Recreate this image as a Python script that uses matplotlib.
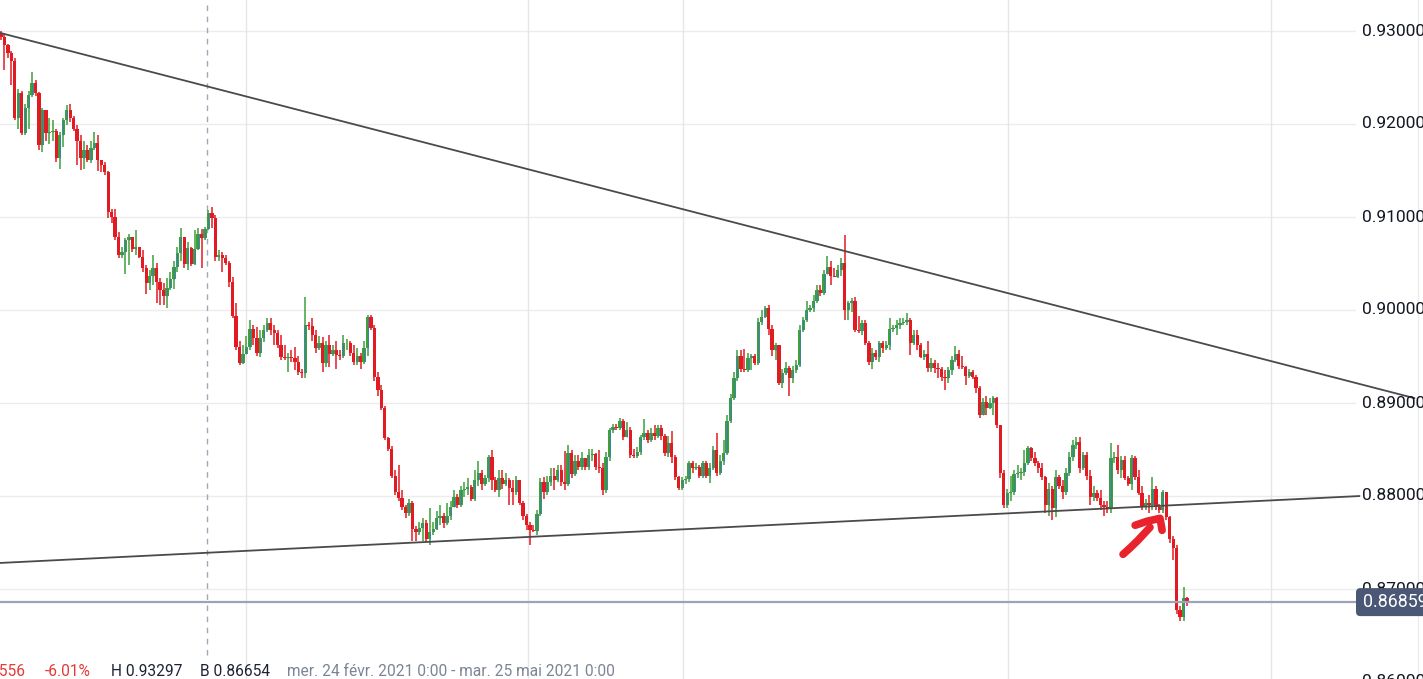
"""Candlestick chart with two hand-drawn trend lines, recreated in matplotlib."""

import matplotlib

matplotlib.use("Agg")
import matplotlib.pyplot as plt  # noqa: E402
from matplotlib.patches import FancyBboxPatch  # noqa: E402
from matplotlib.transforms import blended_transform_factory  # noqa: E402

# ---- data (prices) ----
FIRST_OPEN = 0.9298

CLOSE = [
    0.9294, 0.9285, 0.9276, 0.9268, 0.9206, 0.9233, 0.9190, 0.9217, 0.9231, 0.9244,
    0.9233, 0.9177, 0.9215, 0.9190, 0.9191, 0.9193, 0.9163, 0.9188, 0.9204, 0.9215,
    0.9206, 0.9195, 0.9182, 0.9163, 0.9172, 0.9161, 0.9174, 0.9180, 0.9161, 0.9156,
    0.9148, 0.9105, 0.9100, 0.9078, 0.9059,
    0.9062, 0.9075, 0.9078, 0.9066, 0.9068, 0.9057, 0.9045, 0.9029, 0.9037, 0.9045,
    0.9030, 0.9021, 0.9015, 0.9024, 0.9033, 0.9046, 0.9061, 0.9078, 0.9049, 0.9067,
    0.9049, 0.9066, 0.9082, 0.9077, 0.9087, 0.9104, 0.9099, 0.9057, 0.9059, 0.9056,
    0.9051, 0.9030, 0.8994, 0.8960, 0.8943, 0.8953, 0.8960, 0.8980, 0.8970, 0.8954,
    0.8970, 0.8979, 0.8986, 0.8978, 0.8975, 0.8962, 0.8949, 0.8948, 0.8950, 0.8948,
    0.8944, 0.8933, 0.8932, 0.8984, 0.8983, 0.8973, 0.8959, 0.8964, 0.8943, 0.8962,
    0.8953, 0.8957, 0.8952, 0.8951, 0.8964, 0.8965, 0.8954, 0.8944, 0.8951, 0.8944,
    0.8959, 0.8992, 0.8981, 0.8928, 0.8914,
    0.8895, 0.8862, 0.8851, 0.8822, 0.8804, 0.8798, 0.8788, 0.8782, 0.8793, 0.8765,
    0.8761, 0.8766, 0.8771, 0.8754, 0.8761, 0.8765, 0.8776, 0.8779, 0.8771, 0.8778,
    0.8788, 0.8799, 0.8790, 0.8806, 0.8808, 0.8810, 0.8797, 0.8817, 0.8825, 0.8813,
    0.8819, 0.8842, 0.8817, 0.8806, 0.8819, 0.8813, 0.8817, 0.8809, 0.8804, 0.8817,
    0.8793, 0.8778, 0.8769, 0.8763, 0.8762, 0.8781, 0.8815, 0.8804, 0.8815, 0.8822,
    0.8817, 0.8828, 0.8815, 0.8813, 0.8846, 0.8824, 0.8838, 0.8831, 0.8841, 0.8831,
    0.8844, 0.8845, 0.8831, 0.8830, 0.8806, 0.8842, 0.8871, 0.8874, 0.8873, 0.8881,
    0.8863, 0.8871, 0.8844, 0.8843, 0.8847, 0.8863, 0.8868, 0.8860, 0.8868, 0.8865,
    0.8873, 0.8865, 0.8846, 0.8857, 0.8842, 0.8820, 0.8809, 0.8817, 0.8818, 0.8836,
    0.8830, 0.8831, 0.8822, 0.8836, 0.8822, 0.8830, 0.8849, 0.8825, 0.8838, 0.8846,
    0.8881, 0.8905,
    0.8927, 0.8951, 0.8937, 0.8935, 0.8948, 0.8951, 0.8943, 0.8987, 0.8992, 0.9002,
    0.8980, 0.8957, 0.8962, 0.8921, 0.8932, 0.8938, 0.8927, 0.8935, 0.8941, 0.8978,
    0.8989, 0.9000, 0.9002, 0.9010, 0.9021, 0.9018, 0.9039, 0.9046, 0.9037, 0.9036,
    0.9043, 0.9051, 0.9000, 0.9007, 0.9010, 0.8978, 0.8977, 0.8986, 0.8965, 0.8944,
    0.8954, 0.8949, 0.8964, 0.8959, 0.8962, 0.8980, 0.8981, 0.8984, 0.8986, 0.8987,
    0.8989, 0.8964, 0.8973, 0.8962, 0.8949, 0.8953, 0.8938, 0.8943, 0.8938, 0.8937,
    0.8928, 0.8927, 0.8935, 0.8946, 0.8953, 0.8940, 0.8939, 0.8929, 0.8933, 0.8928,
    0.8916, 0.8887, 0.8901, 0.8895, 0.8900, 0.8905, 0.8876, 0.8825, 0.8790,
    0.8803, 0.8804, 0.8824, 0.8825, 0.8826, 0.8836, 0.8852, 0.8841, 0.8836, 0.8830,
    0.8820, 0.8790, 0.8808, 0.8787, 0.8820, 0.8811, 0.8804, 0.8825, 0.8842, 0.8855,
    0.8858, 0.8830, 0.8844, 0.8822, 0.8799, 0.8803, 0.8798, 0.8790, 0.8788, 0.8787,
    0.8841, 0.8842, 0.8828, 0.8839, 0.8819, 0.8813, 0.8841, 0.8820, 0.8803, 0.8788,
    0.8793, 0.8790, 0.8808, 0.8788, 0.8785, 0.8804, 0.8777, 0.8754, 0.8744, 0.8677,
    0.8670, 0.8690, 0.86859,
]

HIGH = [
    0.9300, 0.9298, 0.9286, 0.9278, 0.9271, 0.9238, 0.9236, 0.9222, 0.9236, 0.9256,
    0.9247, 0.9234, 0.9217, 0.9215, 0.9206, 0.9204, 0.9195, 0.9191, 0.9206, 0.9220,
    0.9221, 0.9209, 0.9199, 0.9188, 0.9182, 0.9177, 0.9182, 0.9191, 0.9188, 0.9161,
    0.9159, 0.9150, 0.9109, 0.9109, 0.9084,
    0.9068, 0.9077, 0.9082, 0.9079, 0.9086, 0.9068, 0.9064, 0.9048, 0.9043, 0.9059,
    0.9051, 0.9034, 0.9029, 0.9034, 0.9041, 0.9053, 0.9068, 0.9088, 0.9078, 0.9073,
    0.9068, 0.9086, 0.9088, 0.9087, 0.9089, 0.9107, 0.9111, 0.9102, 0.9064, 0.9062,
    0.9059, 0.9053, 0.9036, 0.9007, 0.8967, 0.8962, 0.8972, 0.8989, 0.8984, 0.8982,
    0.8979, 0.8984, 0.8991, 0.8991, 0.8984, 0.8978, 0.8973, 0.8962, 0.8954, 0.8957,
    0.8960, 0.8951, 0.8937, 0.9014, 0.8987, 0.8991, 0.8978, 0.8972, 0.8971, 0.8967,
    0.8973, 0.8962, 0.8967, 0.8957, 0.8973, 0.8969, 0.8967, 0.8962, 0.8959, 0.8954,
    0.8967, 0.8995, 0.8995, 0.8984, 0.8933,
    0.8919, 0.8897, 0.8863, 0.8854, 0.8828, 0.8833, 0.8806, 0.8790, 0.8797, 0.8795,
    0.8768, 0.8772, 0.8776, 0.8774, 0.8787, 0.8772, 0.8784, 0.8790, 0.8782, 0.8793,
    0.8795, 0.8806, 0.8802, 0.8811, 0.8815, 0.8819, 0.8812, 0.8828, 0.8838, 0.8828,
    0.8823, 0.8844, 0.8849, 0.8820, 0.8828, 0.8828, 0.8825, 0.8819, 0.8817, 0.8821,
    0.8817, 0.8795, 0.8781, 0.8772, 0.8769, 0.8785, 0.8819, 0.8820, 0.8822, 0.8830,
    0.8830, 0.8833, 0.8833, 0.8848, 0.8855, 0.8849, 0.8844, 0.8844, 0.8847, 0.8841,
    0.8851, 0.8851, 0.8846, 0.8849, 0.8836, 0.8847, 0.8873, 0.8877, 0.8877, 0.8884,
    0.8883, 0.8880, 0.8874, 0.8851, 0.8853, 0.8866, 0.8883, 0.8871, 0.8873, 0.8876,
    0.8876, 0.8876, 0.8867, 0.8865, 0.8870, 0.8844, 0.8822, 0.8820, 0.8821, 0.8838,
    0.8838, 0.8835, 0.8833, 0.8838, 0.8838, 0.8836, 0.8854, 0.8868, 0.8844, 0.8860,
    0.8887, 0.8910,
    0.8933, 0.8957, 0.8957, 0.8958, 0.8954, 0.8953, 0.8953, 0.8991, 0.9000, 0.9004,
    0.9005, 0.8984, 0.8965, 0.8962, 0.8937, 0.8944, 0.8940, 0.8940, 0.8946, 0.8984,
    0.8993, 0.9010, 0.9005, 0.9016, 0.9027, 0.9027, 0.9043, 0.9058, 0.9053, 0.9045,
    0.9048, 0.9056, 0.9081, 0.9010, 0.9013, 0.9014, 0.8994, 0.8989, 0.8989, 0.8967,
    0.8959, 0.8957, 0.8967, 0.8967, 0.8967, 0.8991, 0.8984, 0.8989, 0.8991, 0.8991,
    0.8997, 0.8991, 0.8978, 0.8978, 0.8965, 0.8957, 0.8967, 0.8948, 0.8946, 0.8943,
    0.8939, 0.8935, 0.8939, 0.8951, 0.8961, 0.8957, 0.8951, 0.8940, 0.8937, 0.8935,
    0.8930, 0.8918, 0.8905, 0.8908, 0.8905, 0.8907, 0.8906, 0.8876, 0.8828,
    0.8808, 0.8822, 0.8828, 0.8833, 0.8830, 0.8849, 0.8854, 0.8853, 0.8847, 0.8838,
    0.8836, 0.8822, 0.8814, 0.8811, 0.8828, 0.8823, 0.8817, 0.8830, 0.8847, 0.8860,
    0.8863, 0.8863, 0.8847, 0.8847, 0.8828, 0.8811, 0.8806, 0.8806, 0.8795, 0.8795,
    0.8857, 0.8847, 0.8855, 0.8843, 0.8843, 0.8822, 0.8844, 0.8843, 0.8828, 0.8811,
    0.8797, 0.8801, 0.8820, 0.8811, 0.8791, 0.8806, 0.8804, 0.8779, 0.8757, 0.8747,
    0.8682, 0.8702, 0.8691,
]

LOW = [
    0.9290, 0.9258, 0.9271, 0.9242, 0.9204, 0.9195, 0.9188, 0.9188, 0.9195, 0.9229,
    0.9230, 0.9172, 0.9170, 0.9182, 0.9179, 0.9182, 0.9159, 0.9152, 0.9175, 0.9199,
    0.9202, 0.9192, 0.9156, 0.9151, 0.9152, 0.9159, 0.9158, 0.9172, 0.9150, 0.9148,
    0.9145, 0.9099, 0.9094, 0.9075, 0.9056,
    0.9056, 0.9039, 0.9048, 0.9062, 0.9059, 0.9056, 0.9041, 0.9017, 0.9021, 0.9027,
    0.9008, 0.9005, 0.9005, 0.9002, 0.9021, 0.9023, 0.9041, 0.9053, 0.9045, 0.9043,
    0.9047, 0.9048, 0.9064, 0.9045, 0.9075, 0.9086, 0.9088, 0.9053, 0.9053, 0.9041,
    0.9048, 0.9025, 0.8991, 0.8957, 0.8941, 0.8942, 0.8954, 0.8957, 0.8962, 0.8951,
    0.8949, 0.8966, 0.8976, 0.8973, 0.8962, 0.8959, 0.8946, 0.8946, 0.8933, 0.8944,
    0.8935, 0.8930, 0.8927, 0.8927, 0.8979, 0.8967, 0.8954, 0.8957, 0.8933, 0.8939,
    0.8939, 0.8951, 0.8937, 0.8946, 0.8948, 0.8957, 0.8951, 0.8941, 0.8941, 0.8937,
    0.8942, 0.8951, 0.8978, 0.8924, 0.8908,
    0.8892, 0.8860, 0.8848, 0.8819, 0.8801, 0.8795, 0.8785, 0.8776, 0.8779, 0.8752,
    0.8752, 0.8758, 0.8752, 0.8751, 0.8747, 0.8758, 0.8763, 0.8769, 0.8766, 0.8769,
    0.8774, 0.8788, 0.8787, 0.8788, 0.8799, 0.8801, 0.8795, 0.8795, 0.8811, 0.8806,
    0.8811, 0.8815, 0.8806, 0.8804, 0.8799, 0.8808, 0.8811, 0.8790, 0.8790, 0.8801,
    0.8790, 0.8774, 0.8763, 0.8747, 0.8761, 0.8758, 0.8779, 0.8797, 0.8801, 0.8811,
    0.8806, 0.8815, 0.8811, 0.8806, 0.8811, 0.8819, 0.8822, 0.8828, 0.8828, 0.8828,
    0.8828, 0.8838, 0.8828, 0.8825, 0.8801, 0.8803, 0.8838, 0.8868, 0.8871, 0.8871,
    0.8860, 0.8863, 0.8841, 0.8841, 0.8841, 0.8844, 0.8860, 0.8857, 0.8858, 0.8860,
    0.8862, 0.8860, 0.8843, 0.8842, 0.8836, 0.8817, 0.8806, 0.8806, 0.8813, 0.8815,
    0.8825, 0.8828, 0.8819, 0.8819, 0.8819, 0.8814, 0.8828, 0.8822, 0.8823, 0.8833,
    0.8844, 0.8879,
    0.8903, 0.8924, 0.8933, 0.8933, 0.8933, 0.8935, 0.8941, 0.8941, 0.8984, 0.8991,
    0.8973, 0.8951, 0.8946, 0.8919, 0.8916, 0.8930, 0.8908, 0.8922, 0.8932, 0.8939,
    0.8976, 0.8987, 0.8998, 0.8998, 0.9008, 0.9015, 0.9016, 0.9041, 0.9027, 0.9035,
    0.9034, 0.9037, 0.8989, 0.8989, 0.8998, 0.8976, 0.8975, 0.8973, 0.8962, 0.8941,
    0.8937, 0.8946, 0.8944, 0.8954, 0.8957, 0.8957, 0.8976, 0.8973, 0.8980, 0.8984,
    0.8984, 0.8952, 0.8962, 0.8957, 0.8948, 0.8946, 0.8933, 0.8933, 0.8932, 0.8927,
    0.8924, 0.8914, 0.8922, 0.8930, 0.8944, 0.8937, 0.8937, 0.8919, 0.8927, 0.8926,
    0.8911, 0.8884, 0.8887, 0.8887, 0.8894, 0.8887, 0.8873, 0.8819, 0.8787,
    0.8787, 0.8795, 0.8801, 0.8819, 0.8817, 0.8822, 0.8833, 0.8838, 0.8832, 0.8825,
    0.8817, 0.8782, 0.8779, 0.8774, 0.8777, 0.8808, 0.8797, 0.8801, 0.8822, 0.8838,
    0.8851, 0.8825, 0.8828, 0.8817, 0.8790, 0.8795, 0.8795, 0.8785, 0.8779, 0.8782,
    0.8782, 0.8836, 0.8824, 0.8819, 0.8817, 0.8811, 0.8806, 0.8817, 0.8801, 0.8785,
    0.8785, 0.8782, 0.8785, 0.8785, 0.8782, 0.8782, 0.8774, 0.8750, 0.8731, 0.8673,
    0.86654, 0.8666, 0.8682,
]

# trend lines drawn on the chart: (candle index, price) end points
UPPER_TREND = [(-0.3, 0.9298), (409.0, 0.8905)]
LOWER_TREND = [(-0.3, 0.8728), (393.1, 0.8800)]

# hand-drawn red arrow (candle index, price)
ARROW_SHAFT = [(324.5, 0.87373), (326.5, 0.87440), (328.8, 0.87523), (332.3, 0.87663)]
ARROW_HEAD = [(328.0, 0.87685), (331.4, 0.87728), (335.2, 0.87760), (335.8, 0.87631)]

LAST_PRICE = 0.86859
PRICE_LEVELS = [0.93, 0.92, 0.91, 0.90, 0.89, 0.88, 0.87, 0.86]
INFO_PARTS = [
    ("5556", "#e53935"),
    ("-6.01%", "#e53935"),
    ("H 0.93297", "#1e2235"),
    ("B 0.86654", "#1e2235"),
    ("mer. 24 févr. 2021 0:00 - mar. 25 mai 2021 0:00", "#7c8595"),
]

# ---- layout (pixels of the 1423x679 canvas) ----
W, H = 1423, 679
FIRST_PX, LAST_PX = 1, 1187
PANE_RIGHT_PX = 1355
VGRID_PX = [246, 528, 683, 1008, 1271]
CROSSHAIR_PX = 207
INFO_X_PX = [-9, 45, 111, 200, 287]

RED = "#e21b23"
GREEN = "#3d9f3d"

plt.rcParams["font.family"] = ["Roboto", "DejaVu Sans"]

n = len(CLOSE)
assert len(HIGH) == n and len(LOW) == n
opens = [FIRST_OPEN] + CLOSE[:-1]

px_per_candle = (LAST_PX - FIRST_PX) / (n - 1)
x_left = -FIRST_PX / px_per_candle
x_right = x_left + W / px_per_candle
y_top = 0.93 + 31 / 9300
y_bot = y_top - H / 9300


def px_to_x(px):
    return x_left + px / px_per_candle


fig = plt.figure(figsize=(W / 100, H / 100), dpi=100)
ax = fig.add_axes([0, 0, 1, 1])
ax.set_xlim(x_left, x_right)
ax.set_ylim(y_bot, y_top)
ax.axis("off")

pane_frac = PANE_RIGHT_PX / W
for lvl in PRICE_LEVELS:
    ax.axhline(lvl, xmin=0, xmax=pane_frac, color="#ececec", lw=1, zorder=0)
for px in VGRID_PX:
    ax.axvline(px_to_x(px), color="#e6e6e6", lw=1, zorder=0)
ax.axvline(px_to_x(1418), color="#ececec", lw=1, zorder=0)
ax.axvline(px_to_x(CROSSHAIR_PX), ymin=24 / H, ymax=1, color="#a3a7b3", lw=1,
           ls=(0, (4, 4)), zorder=1)

# candles
idx = list(range(n))
ups = [c >= o for o, c in zip(opens, CLOSE)]
colors = [GREEN if u else RED for u in ups]
bottoms = [min(o, c) for o, c in zip(opens, CLOSE)]
heights = [max(abs(c - o), 0.0001) for o, c in zip(opens, CLOSE)]
wick_lo = [min(lo, o, c) for lo, o, c in zip(LOW, opens, CLOSE)]
wick_hi = [max(hi, o, c) for hi, o, c in zip(HIGH, opens, CLOSE)]
ax.vlines(idx, wick_lo, wick_hi, colors=colors, lw=1.1, zorder=2)
ax.bar(idx, heights, bottom=bottoms, width=0.95, color=colors, linewidth=0, zorder=3)
green_idx = [i for i in idx if ups[i]]
ax.vlines(green_idx, [opens[i] for i in green_idx], [CLOSE[i] for i in green_idx],
          colors="#3f78c2", lw=0.6, zorder=4)

# trend lines
for line in (UPPER_TREND, LOWER_TREND):
    xs, ys = zip(*line)
    ax.plot(xs, ys, color="#4a4a4a", lw=1.3, zorder=5, solid_capstyle="butt")

# last price line
ax.axhline(LAST_PRICE, xmin=0, xmax=pane_frac, color="#9aa4b6", lw=1.6, zorder=4)

# red arrow
for stroke in (ARROW_SHAFT, ARROW_HEAD):
    xs, ys = zip(*stroke)
    ax.plot(xs, ys, color="#e8232b", lw=5.5, solid_capstyle="round",
            solid_joinstyle="round", zorder=6)

# price axis labels
trans = blended_transform_factory(ax.transAxes, ax.transData)
for lvl in PRICE_LEVELS:
    ax.text(1362 / W, lvl, f"{lvl:.5f}", transform=trans, ha="left", va="center",
            fontsize=12.5, color="#131722", zorder=7)
box = FancyBboxPatch((1356 / W, LAST_PRICE - 14 / 9300), 0.08, 28 / 9300,
                     boxstyle="round,pad=0,rounding_size=0.003", transform=trans,
                     mutation_aspect=(28 / 9300) / (28 / W), color="#4a5876",
                     zorder=8, lw=0)
ax.add_patch(box)
ax.text(1363 / W, LAST_PRICE, f"{LAST_PRICE:.5f}", transform=trans, ha="left",
        va="center", fontsize=12.8, color="white", zorder=9)

# info strip
for (txt, col), px in zip(INFO_PARTS, INFO_X_PX):
    fig.text(px / W, 1 - 671 / H, txt, color=col, fontsize=11.2, ha="left", va="center")

fig.savefig("out.png", dpi=100)
